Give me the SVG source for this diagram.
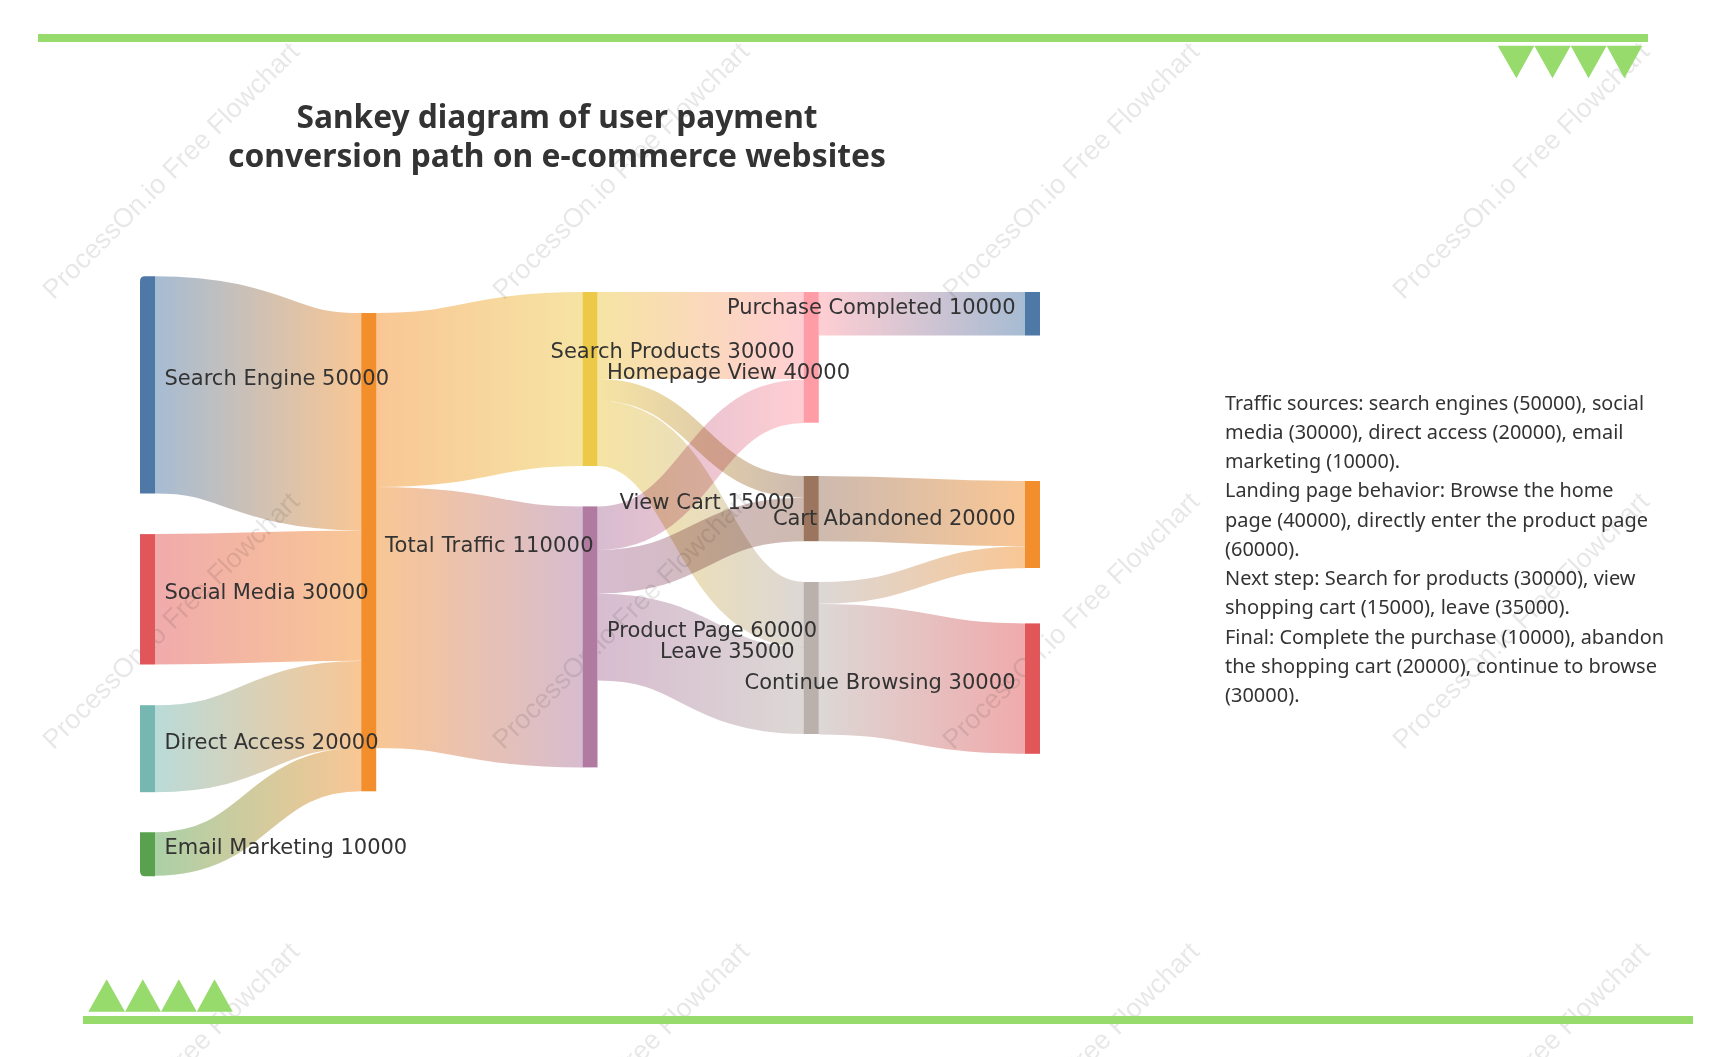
<svg xmlns="http://www.w3.org/2000/svg" width="1730" height="1057" viewBox="0 0 1730 1057">
<style>
.bar,.tri{fill:#98DB6D}
.wm{font:27px "Liberation Sans",Arial,sans-serif;fill:#000;opacity:.09}
.l{fill:none;stroke-opacity:.5;mix-blend-mode:multiply}
.lab{font:21px "DejaVu Sans",sans-serif;fill:#333}
.e{text-anchor:end}
.title{font:bold 32px "Noto Sans",sans-serif;fill:#333;text-anchor:middle}
.body{font:20px "Noto Sans",sans-serif;fill:#333}
</style>
<defs>
<linearGradient id="g1" gradientUnits="userSpaceOnUse" x1="155" x2="361"><stop offset="0" stop-color="#4E79A7"/><stop offset="1" stop-color="#F28E2B"/></linearGradient>
<linearGradient id="g2" gradientUnits="userSpaceOnUse" x1="155" x2="361"><stop offset="0" stop-color="#E15759"/><stop offset="1" stop-color="#F28E2B"/></linearGradient>
<linearGradient id="g3" gradientUnits="userSpaceOnUse" x1="155" x2="361"><stop offset="0" stop-color="#76B7B2"/><stop offset="1" stop-color="#F28E2B"/></linearGradient>
<linearGradient id="g4" gradientUnits="userSpaceOnUse" x1="155" x2="361"><stop offset="0" stop-color="#59A14F"/><stop offset="1" stop-color="#F28E2B"/></linearGradient>
<linearGradient id="g5" gradientUnits="userSpaceOnUse" x1="376" x2="582.5"><stop offset="0" stop-color="#F28E2B"/><stop offset="1" stop-color="#EDC948"/></linearGradient>
<linearGradient id="g6" gradientUnits="userSpaceOnUse" x1="376" x2="582.5"><stop offset="0" stop-color="#F28E2B"/><stop offset="1" stop-color="#B07AA1"/></linearGradient>
<linearGradient id="g7" gradientUnits="userSpaceOnUse" x1="597.5" x2="804"><stop offset="0" stop-color="#EDC948"/><stop offset="1" stop-color="#FF9DA7"/></linearGradient>
<linearGradient id="g8" gradientUnits="userSpaceOnUse" x1="597.5" x2="804"><stop offset="0" stop-color="#EDC948"/><stop offset="1" stop-color="#9C755F"/></linearGradient>
<linearGradient id="g9" gradientUnits="userSpaceOnUse" x1="597.5" x2="804"><stop offset="0" stop-color="#EDC948"/><stop offset="1" stop-color="#BAB0AC"/></linearGradient>
<linearGradient id="g10" gradientUnits="userSpaceOnUse" x1="597.5" x2="804"><stop offset="0" stop-color="#B07AA1"/><stop offset="1" stop-color="#FF9DA7"/></linearGradient>
<linearGradient id="g11" gradientUnits="userSpaceOnUse" x1="597.5" x2="804"><stop offset="0" stop-color="#B07AA1"/><stop offset="1" stop-color="#9C755F"/></linearGradient>
<linearGradient id="g12" gradientUnits="userSpaceOnUse" x1="597.5" x2="804"><stop offset="0" stop-color="#B07AA1"/><stop offset="1" stop-color="#BAB0AC"/></linearGradient>
<linearGradient id="g13" gradientUnits="userSpaceOnUse" x1="819" x2="1025"><stop offset="0" stop-color="#FF9DA7"/><stop offset="1" stop-color="#4E79A7"/></linearGradient>
<linearGradient id="g14" gradientUnits="userSpaceOnUse" x1="819" x2="1025"><stop offset="0" stop-color="#9C755F"/><stop offset="1" stop-color="#F28E2B"/></linearGradient>
<linearGradient id="g15" gradientUnits="userSpaceOnUse" x1="819" x2="1025"><stop offset="0" stop-color="#BAB0AC"/><stop offset="1" stop-color="#F28E2B"/></linearGradient>
<linearGradient id="g16" gradientUnits="userSpaceOnUse" x1="819" x2="1025"><stop offset="0" stop-color="#BAB0AC"/><stop offset="1" stop-color="#E15759"/></linearGradient>
</defs>
<rect width="1730" height="1057" fill="#fff"/>
<g id="watermarks">
<text class="wm" transform="translate(53.5 300.5) rotate(-45)">ProcessOn.io Free Flowchart</text>
<text class="wm" transform="translate(503.5 300.5) rotate(-45)">ProcessOn.io Free Flowchart</text>
<text class="wm" transform="translate(953.5 300.5) rotate(-45)">ProcessOn.io Free Flowchart</text>
<text class="wm" transform="translate(1403.5 300.5) rotate(-45)">ProcessOn.io Free Flowchart</text>
<text class="wm" transform="translate(53.5 750.5) rotate(-45)">ProcessOn.io Free Flowchart</text>
<text class="wm" transform="translate(503.5 750.5) rotate(-45)">ProcessOn.io Free Flowchart</text>
<text class="wm" transform="translate(953.5 750.5) rotate(-45)">ProcessOn.io Free Flowchart</text>
<text class="wm" transform="translate(1403.5 750.5) rotate(-45)">ProcessOn.io Free Flowchart</text>
<text class="wm" transform="translate(53.5 1200.5) rotate(-45)">ProcessOn.io Free Flowchart</text>
<text class="wm" transform="translate(503.5 1200.5) rotate(-45)">ProcessOn.io Free Flowchart</text>
<text class="wm" transform="translate(953.5 1200.5) rotate(-45)">ProcessOn.io Free Flowchart</text>
<text class="wm" transform="translate(1403.5 1200.5) rotate(-45)">ProcessOn.io Free Flowchart</text>
</g>
<g id="decor">
<rect class="bar" x="38" y="34" width="1610" height="8"/>
<rect class="bar" x="83" y="1016" width="1610" height="8"/>
<path class="tri" d="M1497.7 45.7H1534.3L1516.4 78.3ZM1534.3 45.7H1570.7L1552.5 78.3ZM1570.7 45.7H1606.7L1588.5 78.3ZM1606.7 45.7H1642.3L1624.4 78.3Z"/>
<path class="tri" d="M88.3 1011.8H125L106.7 979.3ZM125 1011.8H161L142.8 979.3ZM161 1011.8H196.8L178.8 979.3ZM196.8 1011.8H232.8L214.5 979.3Z"/>
</g>
<g id="connectors">
<path class="l" stroke="url(#g1)" stroke-width="217.4" d="M155 384.9C258 384.9 258 421.7 361 421.7"/>
<path class="l" stroke="url(#g2)" stroke-width="130.4" d="M155 599.3C258 599.3 258 595.6 361 595.6"/>
<path class="l" stroke="url(#g3)" stroke-width="87" d="M155 748.7C258 748.7 258 704.4 361 704.4"/>
<path class="l" stroke="url(#g4)" stroke-width="43.5" d="M155 854C258 854 258 769.6 361 769.6"/>
<path class="l" stroke="url(#g5)" stroke-width="174" d="M376 400C479 400 479 379 582.5 379"/>
<path class="l" stroke="url(#g6)" stroke-width="261" d="M376 617.5C479 617.5 479 636.9 582.5 636.9"/>
<path class="l" stroke="url(#g7)" stroke-width="87" d="M597.5 335.5C700 335.5 700 335.5 804 335.5"/>
<path class="l" stroke="url(#g8)" stroke-width="21.7" d="M597.5 389.8C700 389.8 700 486.9 804 486.9"/>
<path class="l" stroke="url(#g9)" stroke-width="65.2" d="M597.5 433.3C700 433.3 700 614.6 804 614.6"/>
<path class="l" stroke="url(#g10)" stroke-width="43.5" d="M597.5 528.2C700 528.2 700 401.2 804 401.2"/>
<path class="l" stroke="url(#g11)" stroke-width="43.5" d="M597.5 571.7C700 571.7 700 519.5 804 519.5"/>
<path class="l" stroke="url(#g12)" stroke-width="87" d="M597.5 636.9C700 636.9 700 690.5 804 690.5"/>
<path class="l" stroke="url(#g13)" stroke-width="43.5" d="M819 313.8C922 313.8 922 313.8 1025 313.8"/>
<path class="l" stroke="url(#g14)" stroke-width="65.2" d="M819 508.6C922 508.6 922 513.6 1025 513.6"/>
<path class="l" stroke="url(#g15)" stroke-width="21.7" d="M819 592.9C922 592.9 922 557.3 1025 557.3"/>
<path class="l" stroke="url(#g16)" stroke-width="130.4" d="M819 669.2C922 669.2 922 688.6 1025 688.6"/>
</g>
<g id="nodes">
<g id="n-search-engine"><path fill="#4E79A7" d="M155 276.2V493.6H140V281.2Q140 276.2 145 276.2Z"/></g>
<g id="n-social-media"><rect fill="#E15759" x="140" y="534.1" width="15" height="130.4"/></g>
<g id="n-direct-access"><rect fill="#76B7B2" x="140" y="705.2" width="15" height="87"/></g>
<g id="n-email-marketing"><path fill="#59A14F" d="M140 832.3H155V876.2H145Q140 876.2 140 871.2Z"/></g>
<g id="n-total-traffic"><rect fill="#F28E2B" x="361.2" y="313" width="15" height="478.3"/></g>
<g id="n-homepage-view"><rect fill="#EDC948" x="582.5" y="292" width="15" height="174"/></g>
<g id="n-product-page"><rect fill="#B07AA1" x="582.5" y="506.4" width="15" height="261"/></g>
<g id="n-search-products"><rect fill="#FF9DA7" x="803.8" y="292" width="15" height="130.7"/></g>
<g id="n-view-cart"><rect fill="#9C755F" x="803.8" y="476" width="15" height="65.2"/></g>
<g id="n-leave"><rect fill="#BAB0AC" x="803.8" y="582" width="15" height="152"/></g>
<g id="n-purchase-completed"><rect fill="#4E79A7" x="1025" y="292" width="15" height="43.5"/></g>
<g id="n-cart-abandoned"><rect fill="#F28E2B" x="1025" y="481" width="15" height="87"/></g>
<g id="n-continue-browsing"><rect fill="#E15759" x="1025" y="623.4" width="15" height="130.4"/></g>
</g>
<g id="node-labels">
<text class="lab" x="164.5" y="385" textLength="224.5">Search Engine 50000</text>
<text class="lab" x="164.5" y="599.3" textLength="204">Social Media 30000</text>
<text class="lab" x="164.5" y="748.7" textLength="214">Direct Access 20000</text>
<text class="lab" x="164.5" y="854" textLength="242.7">Email Marketing 10000</text>
<text class="lab" x="385" y="552" textLength="208.5">Total Traffic 110000</text>
<text class="lab" x="607" y="379" textLength="243">Homepage View 40000</text>
<text class="lab" x="607" y="636.9" textLength="210">Product Page 60000</text>
<text class="lab e" x="794.5" y="357.5" textLength="244">Search Products 30000</text>
<text class="lab e" x="794.5" y="508.6" textLength="175">View Cart 15000</text>
<text class="lab e" x="794.5" y="658" textLength="134.5">Leave 35000</text>
<text class="lab e" x="1015.5" y="313.8" textLength="288.5">Purchase Completed 10000</text>
<text class="lab e" x="1015.5" y="524.5" textLength="242.5">Cart Abandoned 20000</text>
<text class="lab e" x="1015.5" y="688.6" textLength="271">Continue Browsing 30000</text>
</g>
<g id="title">
<text class="title" x="557" y="128" textLength="521" lengthAdjust="spacingAndGlyphs">Sankey diagram of user payment</text>
<text class="title" x="557" y="167" textLength="658" lengthAdjust="spacingAndGlyphs">conversion path on e-commerce websites</text>
</g>
<g id="notes">
<text class="body" x="1225" y="409.5" textLength="419" lengthAdjust="spacingAndGlyphs">Traffic sources: search engines (50000), social</text>
<text class="body" x="1225" y="438.8" textLength="398.5" lengthAdjust="spacingAndGlyphs">media (30000), direct access (20000), email</text>
<text class="body" x="1225" y="468" textLength="175" lengthAdjust="spacingAndGlyphs">marketing (10000).</text>
<text class="body" x="1225" y="497.3" textLength="388.5" lengthAdjust="spacingAndGlyphs">Landing page behavior: Browse the home</text>
<text class="body" x="1225" y="526.5" textLength="423" lengthAdjust="spacingAndGlyphs">page (40000), directly enter the product page</text>
<text class="body" x="1225" y="555.8" textLength="74.5" lengthAdjust="spacingAndGlyphs">(60000).</text>
<text class="body" x="1225" y="585" textLength="410.5" lengthAdjust="spacingAndGlyphs">Next step: Search for products (30000), view</text>
<text class="body" x="1225" y="614.3" textLength="345" lengthAdjust="spacingAndGlyphs">shopping cart (15000), leave (35000).</text>
<text class="body" x="1225" y="643.5" textLength="439" lengthAdjust="spacingAndGlyphs">Final: Complete the purchase (10000), abandon</text>
<text class="body" x="1225" y="672.8" textLength="432" lengthAdjust="spacingAndGlyphs">the shopping cart (20000), continue to browse</text>
<text class="body" x="1225" y="702" textLength="74.5" lengthAdjust="spacingAndGlyphs">(30000).</text>
</g>
</svg>
